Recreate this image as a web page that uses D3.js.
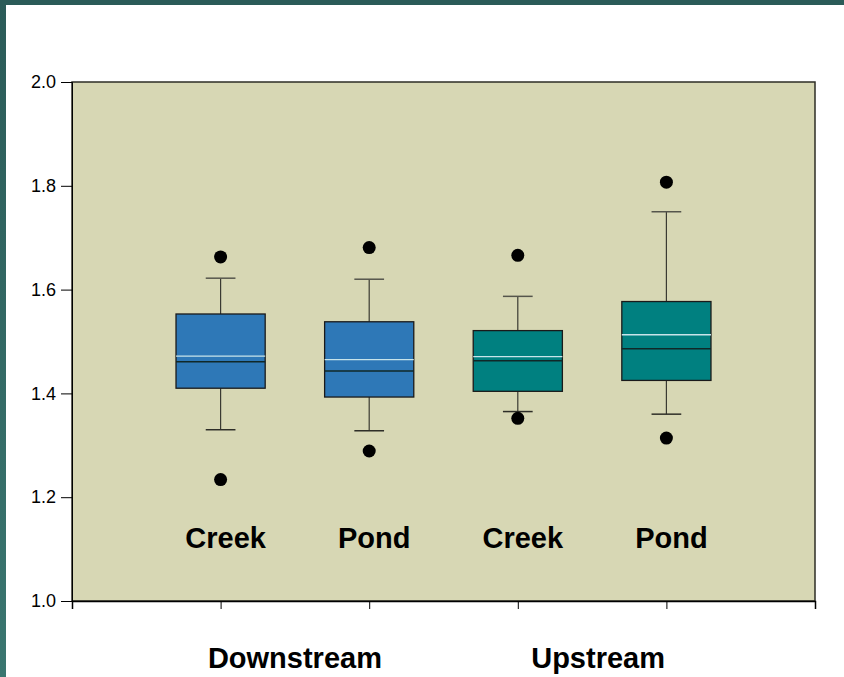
<!DOCTYPE html>
<html>
<head>
<meta charset="utf-8">
<script src="https://cdn.jsdelivr.net/npm/d3@7"></script>
<style>
  html, body { margin: 0; padding: 0; background: #ffffff; }
  svg { display: block; }
</style>
</head>
<body>
<svg id="chart" width="844" height="677"></svg>
<script>
// Box summaries per site and habitat
const groups    = ["Downstream", "Downstream", "Upstream", "Upstream"];
const habitats  = ["Creek", "Pond", "Creek", "Pond"];
const q1        = [1.410, 1.393, 1.404, 1.425];
const medians   = [1.461, 1.443, 1.463, 1.486];
const means     = [1.472, 1.465, 1.471, 1.513];
const q3        = [1.553, 1.538, 1.521, 1.577];
const whiskLow  = [1.330, 1.328, 1.365, 1.360];
const whiskHigh = [1.622, 1.620, 1.587, 1.750];
const outLow    = [1.234, 1.289, 1.352, 1.314];
const outHigh   = [1.663, 1.681, 1.666, 1.807];
const fills     = ["#2e78b7", "#2e78b7", "#008080", "#008080"];
const yTicks    = [1.0, 1.2, 1.4, 1.6, 1.8, 2.0];
const groupNames = ["Downstream", "Upstream"];

const svg = d3.select("#chart");
const W = 844, H = 677;
const FONT = "Arial, 'Liberation Sans', sans-serif";

// page frame
svg.append("rect").attr("x", 0).attr("y", 0).attr("width", W).attr("height", 5).attr("fill", "#2b5b58");
const grad = svg.append("defs").append("linearGradient").attr("id", "edge")
  .attr("x1", 0).attr("y1", 0).attr("x2", 0).attr("y2", 1);
grad.append("stop").attr("offset", "0%").attr("stop-color", "#2b5b58");
grad.append("stop").attr("offset", "100%").attr("stop-color", "#3a7670");
svg.append("rect").attr("x", 0).attr("y", 0).attr("width", 6).attr("height", H).attr("fill", "url(#edge)");

const plot = { left: 72, top: 82, right: 815, bottom: 601 };

const x = d3.scaleLinear().domain([0, 5]).range([plot.left, plot.right]);
const y = d3.scaleLinear().domain([1.0, 2.0]).range([plot.bottom, plot.top]);

// plot background and frame
svg.append("rect")
  .attr("x", plot.left).attr("y", plot.top)
  .attr("width", plot.right - plot.left).attr("height", plot.bottom - plot.top)
  .attr("fill", "#d7d7b4")
  .attr("stroke", "#2e2e26").attr("stroke-width", 1.5);

// axes
const yAxis = d3.axisLeft(y).tickValues(yTicks).tickFormat(d3.format(".1f")).tickSize(11).tickPadding(5);
const gy = svg.append("g").attr("transform", `translate(${plot.left},0)`).call(yAxis);
gy.attr("font-size", null).attr("font-family", null);
gy.select(".domain").attr("stroke", "#000").attr("stroke-width", 1);
gy.selectAll(".tick line").attr("stroke", "#000");
gy.selectAll(".tick text")
  .style("font-family", FONT).style("font-size", "18px")
  .attr("fill", "#000");

const xAxis = d3.axisBottom(x).tickValues([0, 1, 2, 3, 4, 5]).tickFormat("").tickSize(8);
const gx = svg.append("g").attr("transform", `translate(0,${plot.bottom})`).call(xAxis);
gx.select(".domain").attr("stroke", "#000").attr("stroke-width", 1.5);
gx.selectAll(".tick line").attr("stroke", "#000");

// boxes
const boxW = 0.6, capW = 0.2;
const data = habitats.map((h, i) => ({
  i, pos: i + 1, h, fill: fills[i],
  q1: q1[i], med: medians[i], mean: means[i], q3: q3[i],
  lo: whiskLow[i], hi: whiskHigh[i], oLo: outLow[i], oHi: outHigh[i]
}));

const g = svg.append("g");
const bw = x(boxW) - x(0), cw = x(capW) - x(0);

data.forEach(d => {
  const cx = x(d.pos);
  const wc = "#3a3a32";
  // whiskers
  g.append("line").attr("x1", cx).attr("x2", cx).attr("y1", y(d.q3)).attr("y2", y(d.hi))
    .attr("stroke", wc).attr("stroke-width", 1.2);
  g.append("line").attr("x1", cx).attr("x2", cx).attr("y1", y(d.q1)).attr("y2", y(d.lo))
    .attr("stroke", wc).attr("stroke-width", 1.2);
  g.append("line").attr("x1", cx - cw / 2).attr("x2", cx + cw / 2).attr("y1", y(d.hi)).attr("y2", y(d.hi))
    .attr("stroke", "#55554c").attr("stroke-width", 1.5);
  g.append("line").attr("x1", cx - cw / 2).attr("x2", cx + cw / 2).attr("y1", y(d.lo)).attr("y2", y(d.lo))
    .attr("stroke", "#2e2e28").attr("stroke-width", 1.5);
  // box
  g.append("rect").attr("x", cx - bw / 2).attr("y", y(d.q3))
    .attr("width", bw).attr("height", y(d.q1) - y(d.q3))
    .attr("fill", d.fill).attr("stroke", "#1a1a1a").attr("stroke-width", 1.3);
  // median
  g.append("line").attr("x1", cx - bw / 2).attr("x2", cx + bw / 2).attr("y1", y(d.med)).attr("y2", y(d.med))
    .attr("stroke", "#102828").attr("stroke-width", 1.5);
  // mean
  g.append("line").attr("x1", cx - bw / 2).attr("x2", cx + bw / 2).attr("y1", y(d.mean)).attr("y2", y(d.mean))
    .attr("stroke", "#c8e4ea").attr("stroke-width", 1.3);
  // outliers
  [d.oLo, d.oHi].forEach(v => {
    g.append("circle").attr("cx", cx).attr("cy", y(v)).attr("r", 6.5).attr("fill", "#000");
  });
  // habitat label inside plot, set slightly right of the box centre
  g.append("text").attr("x", cx).attr("dx", 5).attr("y", 548)
    .attr("text-anchor", "middle")
    .style("font-family", FONT)
    .attr("font-weight", "bold").style("font-size", "29px").attr("fill", "#000")
    .text(d.h);
});

// group labels below axis
groupNames.forEach((name, k) => {
  const members = data.filter((d, i) => groups[i] === name);
  const cx = d3.mean(members, d => x(d.pos));
  svg.append("text").attr("x", cx).attr("dx", k === 0 ? 0 : 6).attr("y", 668)
    .attr("text-anchor", "middle")
    .style("font-family", FONT)
    .attr("font-weight", "bold").style("font-size", "29px").attr("fill", "#000")
    .text(name);
});
</script>
</body>
</html>
